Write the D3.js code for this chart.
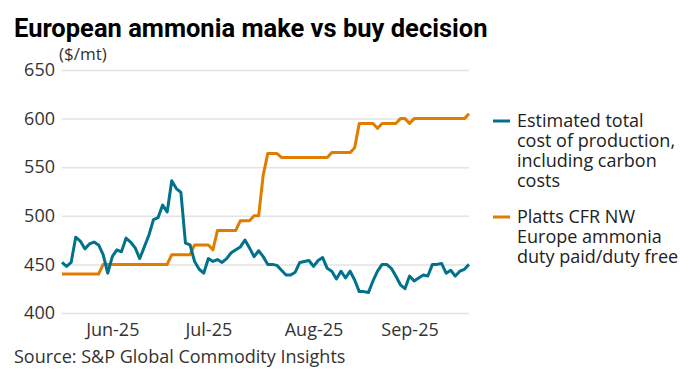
<!DOCTYPE html>
<html>
<head>
<meta charset="utf-8">
<script src="https://cdn.jsdelivr.net/npm/d3@7"></script>
<style>
  body { margin: 0; background: #fff; }
  svg { display: block; font-family: "Open Sans", Roboto, sans-serif; }
</style>
</head>
<body>
<div id="chart"></div>
<script>
// business days shown on the x axis
const startDay = "2025-05-16";
const endDay = "2025-09-18";

const costSeries = [
  452, 448, 452, 478, 474, 466, 471, 473, 470, 460,
  441, 458, 465, 463, 477, 473, 467, 456, 468, 480,
  496, 498, 511, 504, 536, 528, 524, 472, 470, 453,
  445, 441, 456, 453, 455, 452, 456, 462, 465, 468,
  475, 467, 458, 464, 458, 450, 450, 449, 444, 439,
  439, 442, 452, 453, 454, 448, 454, 457, 446, 443,
  435, 443, 436, 443, 434, 422, 422, 421, 433, 443,
  450, 450, 446, 438, 429, 425, 438, 433, 436, 439,
  438, 450, 450, 451, 441, 444, 438, 443, 445, 450
];

const plattsSeries = [
  440, 440, 440, 440, 440, 440, 440, 440, 440, 450,
  450, 450, 450, 450, 450, 450, 450, 450, 450, 450,
  450, 450, 450, 450, 460, 460, 460, 460, 460, 470,
  470, 470, 470, 465, 485, 485, 485, 485, 485, 495,
  495, 495, 500, 500, 542, 564, 564, 564, 560, 560,
  560, 560, 560, 560, 560, 560, 560, 560, 560, 565,
  565, 565, 565, 565, 570, 595, 595, 595, 595, 590,
  595, 595, 595, 595, 600, 600, 595, 600, 600, 600,
  600, 600, 600, 600, 600, 600, 600, 600, 600, 605
];

const yTicks = [400, 450, 500, 550, 600, 650];
const monthTickDays = ["2025-06-02", "2025-07-01", "2025-08-01", "2025-09-01"];
const monthTickLabels = ["Jun-25", "Jul-25", "Aug-25", "Sep-25"];

const seriesNames = [
  ["Estimated total", "cost of production,", "including carbon", "costs"],
  ["Platts CFR NW", "Europe ammonia", "duty paid/duty free"]
];
const seriesColors = ["#00728b", "#e07c00"];

const fmt = d3.timeFormat("%Y-%m-%d");
const parse = d3.timeParse("%Y-%m-%d");
const days = d3.timeDay.range(parse(startDay), d3.timeDay.offset(parse(endDay), 1))
  .filter(d => d.getDay() !== 0 && d.getDay() !== 6)
  .map(fmt);

const W = 691, H = 383;
const margin = { top: 70, left: 62, right: 222, bottom: 70 };
const width = W - margin.left - margin.right;
const height = 313 - margin.top;

const svg = d3.select("#chart").append("svg")
  .attr("width", W)
  .attr("height", H);

svg.append("text")
  .attr("x", 14)
  .attr("y", 37)
  .attr("font-size", 25.5)
  .attr("font-weight", 700)
  .attr("fill", "#000")
  .attr("font-family", "Roboto, sans-serif")
  .text("European ammonia make vs buy decision");

svg.append("text")
  .attr("x", 59)
  .attr("y", 60)
  .attr("font-size", 17)
  .attr("fill", "#333")
  .text("($/mt)");

const g = svg.append("g")
  .attr("transform", `translate(${margin.left},${margin.top})`);

const x = d3.scalePoint()
  .domain(days)
  .range([0, width]);

const y = d3.scaleLinear()
  .domain([400, 650])
  .range([height, 0]);

const yAxis = g.append("g")
  .call(d3.axisLeft(y).tickValues(yTicks).tickSize(-width).tickPadding(7));
yAxis.select(".domain").remove();
yAxis.selectAll(".tick line").attr("stroke", "#e3e3e3").attr("stroke-width", 1.5);
yAxis.selectAll(".tick text")
  .attr("font-size", 18)
  .attr("font-family", "Open Sans, sans-serif")
  .attr("fill", "#333");

const xAxis = g.append("g")
  .attr("transform", `translate(0,${height})`)
  .call(d3.axisBottom(x).tickValues(monthTickDays)
    .tickFormat((d, i) => monthTickLabels[i]).tickSize(0).tickPadding(10));
xAxis.select(".domain").remove();
xAxis.selectAll(".tick text")
  .attr("font-size", 18)
  .attr("font-family", "Open Sans, sans-serif")
  .attr("fill", "#333");

const line = d3.line()
  .x((d, i) => x(days[i]))
  .y(d => y(d));

[plattsSeries, costSeries].forEach((s, k) => {
  g.append("path")
    .datum(s)
    .attr("fill", "none")
    .attr("stroke", seriesColors[1 - k])
    .attr("stroke-width", 3)
    .attr("stroke-linejoin", "round")
    .attr("d", line);
});

const legend = svg.append("g").attr("transform", "translate(493,0)");
const legendTops = [121, 217];
seriesNames.forEach((lines, k) => {
  legend.append("line")
    .attr("x1", 0).attr("x2", 17)
    .attr("y1", legendTops[k]).attr("y2", legendTops[k])
    .attr("stroke", seriesColors[k])
    .attr("stroke-width", 3);
  lines.forEach((l, j) => {
    legend.append("text")
      .attr("x", 24)
      .attr("y", legendTops[k] + 6 + j * 20)
      .attr("font-size", 18)
      .attr("fill", "#222")
      .text(l);
  });
});

svg.append("text")
  .attr("x", 14)
  .attr("y", 363)
  .attr("font-size", 18)
  .attr("fill", "#333")
  .text("Source: S&P Global Commodity Insights");
</script>
</body>
</html>
